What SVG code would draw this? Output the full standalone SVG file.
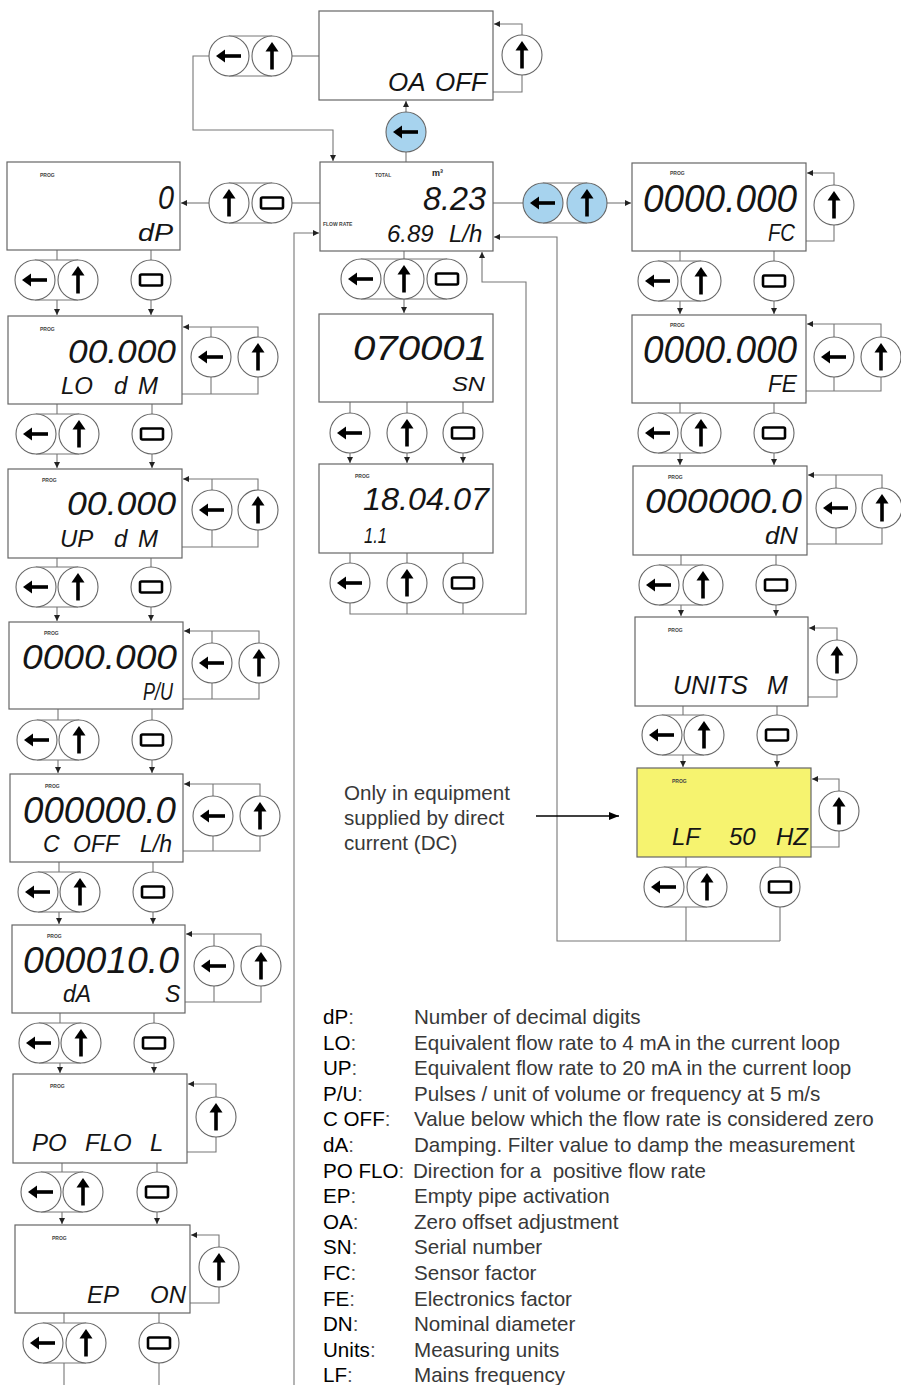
<svg xmlns="http://www.w3.org/2000/svg" xmlns:xlink="http://www.w3.org/1999/xlink" width="901" height="1385" viewBox="0 0 901 1385">
<style>
.box{fill:#fff;stroke:#666;stroke-width:1.2}
.ln{fill:none;stroke:#777;stroke-width:1.1}
.cap{fill:none;stroke:#777;stroke-width:1}
.lcd{font-family:"Liberation Sans",Arial,sans-serif;font-style:italic;fill:#151515}
.prog{font-family:"Liberation Sans",Arial,sans-serif;font-size:5px;font-weight:bold;fill:#444}
.lk{font-family:"Liberation Sans",Arial,sans-serif;font-size:20.6px;fill:#000}
.lc{fill:#555}
.ld{font-family:"Liberation Sans",Arial,sans-serif;font-size:20.6px;fill:#383838}
</style>
<defs>
<marker id="ah" viewBox="0 0 6 6" refX="6" refY="3" markerWidth="6" markerHeight="6" orient="auto" markerUnits="userSpaceOnUse"><path d="M0,0L6,3L0,6z" fill="#222"/></marker>
<marker id="ah2" viewBox="0 0 10 8" refX="10" refY="4" markerWidth="10" markerHeight="8" orient="auto" markerUnits="userSpaceOnUse"><path d="M0,0L10,4L0,8z" fill="#000"/></marker>
<g id="icL"><path d="M-13,0L-4,-6.5L-4,6.5Z" fill="#000"/><rect x="-5" y="-1.8" width="17" height="3.6" fill="#000"/></g>
<g id="icU"><path d="M0,-14L-6.5,-4.5L6.5,-4.5Z" fill="#000"/><rect x="-1.8" y="-5.5" width="3.6" height="19" fill="#000"/></g>
<g id="icR"><rect x="-11" y="-5.5" width="22" height="11" rx="1.5" fill="#fff" stroke="#000" stroke-width="2.6"/></g>
<g id="bL"><circle r="20" fill="#fff" stroke="#666" stroke-width="1.1"/><use xlink:href="#icL"/></g>
<g id="bU"><circle r="20" fill="#fff" stroke="#666" stroke-width="1.1"/><use xlink:href="#icU"/></g>
<g id="bR"><circle r="20" fill="#fff" stroke="#666" stroke-width="1.1"/><use xlink:href="#icR"/></g>
<g id="bLb"><circle r="20" fill="#a7d3ee" stroke="#666" stroke-width="1.1"/><use xlink:href="#icL"/></g>
<g id="bUb"><circle r="20" fill="#a7d3ee" stroke="#666" stroke-width="1.1"/><use xlink:href="#icU"/></g>
</defs>
<rect width="901" height="1385" fill="#fff"/>

<g id="connectors">
<path class="ln" d="M292,56H319"/>
<path class="ln" d="M209,56H193V130H333V161" marker-end="url(#ah)"/>
<path class="ln" d="M522,35V24H494" marker-end="url(#ah)"/>
<path class="ln" d="M522,75V92H493"/>
<path class="ln" d="M406,162V152"/>
<path class="ln" d="M406,112V101" marker-end="url(#ah)"/>
<path class="ln" d="M320,203H292"/>
<path class="ln" d="M209,203H181" marker-end="url(#ah)"/>
<path class="ln" d="M294,1385V233H319" marker-end="url(#ah)"/>
<path class="ln" d="M493,203H523"/>
<path class="ln" d="M607,203H631" marker-end="url(#ah)"/>
<path class="ln" d="M404,251V259"/>
<path class="ln" d="M404,299V313" marker-end="url(#ah)"/>
<path class="ln" d="M350,402V413M407,402V413M463,402V413"/>
<path class="ln" d="M350,453V463" marker-end="url(#ah)"/>
<path class="ln" d="M407,453V463" marker-end="url(#ah)"/>
<path class="ln" d="M463,453V463" marker-end="url(#ah)"/>
<path class="ln" d="M350,553V563M407,553V563M463,553V563M407,603V614M463,603V614"/>
<path class="ln" d="M350,603V614H526V282H482V252" marker-end="url(#ah)"/>
<path class="ln" d="M57,250V260M151,250V260"/>
<path class="ln" d="M57,300V315" marker-end="url(#ah)"/>
<path class="ln" d="M151,300V315" marker-end="url(#ah)"/>
<path class="ln" d="M258,337V327H183" marker-end="url(#ah)"/>
<path class="ln" d="M211,327V337M211,377V394M258,377V394H182"/>
<path class="ln" d="M57,404V414M152,404V414"/>
<path class="ln" d="M57,454V468" marker-end="url(#ah)"/>
<path class="ln" d="M152,454V468" marker-end="url(#ah)"/>
<path class="ln" d="M258,490V479H183" marker-end="url(#ah)"/>
<path class="ln" d="M212,479V490M212,530V547M258,530V547H182"/>
<path class="ln" d="M57,558V567M151,558V567"/>
<path class="ln" d="M57,607V621" marker-end="url(#ah)"/>
<path class="ln" d="M151,607V621" marker-end="url(#ah)"/>
<path class="ln" d="M259,643V631H184" marker-end="url(#ah)"/>
<path class="ln" d="M212,631V643M212,683V699M259,683V699H183"/>
<path class="ln" d="M58,709V720M152,709V720"/>
<path class="ln" d="M58,760V773" marker-end="url(#ah)"/>
<path class="ln" d="M152,760V773" marker-end="url(#ah)"/>
<path class="ln" d="M260,796V784H184" marker-end="url(#ah)"/>
<path class="ln" d="M213,784V796M213,836V851M260,836V851H183"/>
<path class="ln" d="M59,862V872M153,862V872"/>
<path class="ln" d="M59,912V924" marker-end="url(#ah)"/>
<path class="ln" d="M153,912V924" marker-end="url(#ah)"/>
<path class="ln" d="M261,946V934H186" marker-end="url(#ah)"/>
<path class="ln" d="M214,934V946M214,986V1002M261,986V1002H185"/>
<path class="ln" d="M60,1013V1023M154,1013V1023"/>
<path class="ln" d="M60,1063V1073" marker-end="url(#ah)"/>
<path class="ln" d="M154,1063V1073" marker-end="url(#ah)"/>
<path class="ln" d="M216,1097V1084H188" marker-end="url(#ah)"/>
<path class="ln" d="M216,1137V1152H187"/>
<path class="ln" d="M62,1163V1172M157,1163V1172"/>
<path class="ln" d="M62,1212V1224" marker-end="url(#ah)"/>
<path class="ln" d="M157,1212V1224" marker-end="url(#ah)"/>
<path class="ln" d="M219,1247V1235H191" marker-end="url(#ah)"/>
<path class="ln" d="M219,1287V1303H190"/>
<path class="ln" d="M64,1313V1323M159,1313V1323M64,1363V1385M159,1363V1385"/>
<path class="ln" d="M834,185V173H807" marker-end="url(#ah)"/>
<path class="ln" d="M834,225V241H806"/>
<path class="ln" d="M680,251V261M774,251V261"/>
<path class="ln" d="M680,301V314" marker-end="url(#ah)"/>
<path class="ln" d="M774,301V314" marker-end="url(#ah)"/>
<path class="ln" d="M881,337V324H807" marker-end="url(#ah)"/>
<path class="ln" d="M834,324V337M834,377V391M881,377V391H806"/>
<path class="ln" d="M680,403V413M774,403V413"/>
<path class="ln" d="M680,453V465" marker-end="url(#ah)"/>
<path class="ln" d="M774,453V465" marker-end="url(#ah)"/>
<path class="ln" d="M882,488V475H808" marker-end="url(#ah)"/>
<path class="ln" d="M836,475V488M836,528V544M882,528V544H807"/>
<path class="ln" d="M681,555V565M776,555V565"/>
<path class="ln" d="M681,605V616" marker-end="url(#ah)"/>
<path class="ln" d="M776,605V616" marker-end="url(#ah)"/>
<path class="ln" d="M837,640V628H809" marker-end="url(#ah)"/>
<path class="ln" d="M837,680V697H808"/>
<path class="ln" d="M683,706V715M777,706V715"/>
<path class="ln" d="M683,755V767" marker-end="url(#ah)"/>
<path class="ln" d="M777,755V767" marker-end="url(#ah)"/>
<path class="ln" d="M839,791V779H812" marker-end="url(#ah)"/>
<path class="ln" d="M839,831V847H811"/>
<path class="ln" d="M686,857V867M780,857V867M686,907V941M780,907V941"/>
<path class="ln" d="M780,941H557V237H494" marker-end="url(#ah)"/>
<path d="M536,816H619" fill="none" stroke="#000" stroke-width="1.6" marker-end="url(#ah2)"/>
</g>

<g id="buttons">
<path class="cap" d="M229,36H272M229,76H272"/><use xlink:href="#bL" x="229" y="56"/><use xlink:href="#bU" x="272" y="56"/>
<use xlink:href="#bU" x="522" y="55"/>
<use xlink:href="#bLb" x="406" y="132"/>
<path class="cap" d="M229,183H272M229,223H272"/><use xlink:href="#bU" x="229" y="203"/><use xlink:href="#bR" x="272" y="203"/>
<path class="cap" d="M543,183H587M543,223H587"/><use xlink:href="#bLb" x="543" y="203"/><use xlink:href="#bUb" x="587" y="203"/>
<path class="cap" d="M361,259H447M361,299H447"/><use xlink:href="#bL" x="361" y="279"/><use xlink:href="#bU" x="404" y="279"/><use xlink:href="#bR" x="447" y="279"/>
<use xlink:href="#bL" x="350" y="433"/><use xlink:href="#bU" x="407" y="433"/><use xlink:href="#bR" x="463" y="433"/>
<use xlink:href="#bL" x="350" y="583"/><use xlink:href="#bU" x="407" y="583"/><use xlink:href="#bR" x="463" y="583"/>
<path class="cap" d="M35,260H78M35,300H78"/><use xlink:href="#bL" x="35" y="280"/><use xlink:href="#bU" x="78" y="280"/><use xlink:href="#bR" x="151" y="280"/>
<use xlink:href="#bL" x="211" y="357"/><use xlink:href="#bU" x="258" y="357"/>
<path class="cap" d="M36,414H79M36,454H79"/><use xlink:href="#bL" x="36" y="434"/><use xlink:href="#bU" x="79" y="434"/><use xlink:href="#bR" x="152" y="434"/>
<use xlink:href="#bL" x="212" y="510"/><use xlink:href="#bU" x="258" y="510"/>
<path class="cap" d="M36,567H78M36,607H78"/><use xlink:href="#bL" x="36" y="587"/><use xlink:href="#bU" x="78" y="587"/><use xlink:href="#bR" x="151" y="587"/>
<use xlink:href="#bL" x="212" y="663"/><use xlink:href="#bU" x="259" y="663"/>
<path class="cap" d="M37,720H79M37,760H79"/><use xlink:href="#bL" x="37" y="740"/><use xlink:href="#bU" x="79" y="740"/><use xlink:href="#bR" x="152" y="740"/>
<use xlink:href="#bL" x="213" y="816"/><use xlink:href="#bU" x="260" y="816"/>
<path class="cap" d="M38,872H80M38,912H80"/><use xlink:href="#bL" x="38" y="892"/><use xlink:href="#bU" x="80" y="892"/><use xlink:href="#bR" x="153" y="892"/>
<use xlink:href="#bL" x="214" y="966"/><use xlink:href="#bU" x="261" y="966"/>
<path class="cap" d="M39,1023H81M39,1063H81"/><use xlink:href="#bL" x="39" y="1043"/><use xlink:href="#bU" x="81" y="1043"/><use xlink:href="#bR" x="154" y="1043"/>
<use xlink:href="#bU" x="216" y="1117"/>
<path class="cap" d="M41,1172H83M41,1212H83"/><use xlink:href="#bL" x="41" y="1192"/><use xlink:href="#bU" x="83" y="1192"/><use xlink:href="#bR" x="157" y="1192"/>
<use xlink:href="#bU" x="219" y="1267"/>
<path class="cap" d="M43,1323H86M43,1363H86"/><use xlink:href="#bL" x="43" y="1343"/><use xlink:href="#bU" x="86" y="1343"/><use xlink:href="#bR" x="159" y="1343"/>
<use xlink:href="#bU" x="834" y="205"/>
<path class="cap" d="M658,261H701M658,301H701"/><use xlink:href="#bL" x="658" y="281"/><use xlink:href="#bU" x="701" y="281"/><use xlink:href="#bR" x="774" y="281"/>
<use xlink:href="#bL" x="834" y="357"/><use xlink:href="#bU" x="881" y="357"/>
<path class="cap" d="M658,413H701M658,453H701"/><use xlink:href="#bL" x="658" y="433"/><use xlink:href="#bU" x="701" y="433"/><use xlink:href="#bR" x="774" y="433"/>
<use xlink:href="#bL" x="836" y="508"/><use xlink:href="#bU" x="882" y="508"/>
<path class="cap" d="M659,565H703M659,605H703"/><use xlink:href="#bL" x="659" y="585"/><use xlink:href="#bU" x="703" y="585"/><use xlink:href="#bR" x="776" y="585"/>
<use xlink:href="#bU" x="837" y="660"/>
<path class="cap" d="M662,715H704M662,755H704"/><use xlink:href="#bL" x="662" y="735"/><use xlink:href="#bU" x="704" y="735"/><use xlink:href="#bR" x="777" y="735"/>
<use xlink:href="#bU" x="839" y="811"/>
<path class="cap" d="M664,867H707M664,907H707"/><use xlink:href="#bL" x="664" y="887"/><use xlink:href="#bU" x="707" y="887"/><use xlink:href="#bR" x="780" y="887"/>
</g>

<g id="node-oa">
<rect class="box" x="319" y="11" width="174" height="89"/>
<text class="lcd" y="91" font-size="26"><tspan x="388">OA </tspan><tspan x="435">OFF</tspan></text>
</g>
<g id="node-main">
<rect class="box" x="320" y="162" width="173" height="89"/>
<text class="prog" x="375" y="177">TOTAL</text>
<text x="432" y="176" font-family="Liberation Sans, Arial, sans-serif" font-size="9" font-weight="bold" fill="#222">m³</text>
<text class="lcd" x="423" y="210" font-size="33" textLength="63" lengthAdjust="spacingAndGlyphs">8.23</text>
<text class="prog" x="323" y="226">FLOW RATE</text>
<text class="lcd" y="242" font-size="24"><tspan x="387">6.89 </tspan><tspan x="449">L/h</tspan></text>
</g>
<g id="node-sn">
<rect class="box" x="319" y="314" width="174" height="88"/>
<text class="lcd" x="353" y="360" font-size="35" textLength="134" lengthAdjust="spacingAndGlyphs">070001</text>
<text class="lcd" x="452" y="391" font-size="21" textLength="33" lengthAdjust="spacingAndGlyphs">SN</text>
</g>
<g id="node-version">
<rect class="box" x="319" y="464" width="174" height="89"/>
<text class="prog" x="355" y="478">PROG</text>
<text class="lcd" x="363" y="510" font-size="32" textLength="126" lengthAdjust="spacingAndGlyphs">18.04.07</text>
<text class="lcd" x="364" y="543" font-size="22" textLength="23" lengthAdjust="spacingAndGlyphs">1.1</text>
</g>

<g id="node-dp">
<rect class="box" x="7" y="162" width="173" height="88"/>
<text class="prog" x="40" y="177">PROG</text>
<text class="lcd" x="158" y="209" font-size="33" textLength="16" lengthAdjust="spacingAndGlyphs">0</text>
<text class="lcd" x="138" y="241" font-size="24" textLength="35" lengthAdjust="spacingAndGlyphs">dP</text>
</g>
<g id="node-lo">
<rect class="box" x="8" y="316" width="174" height="88"/>
<text class="prog" x="40" y="331">PROG</text>
<text class="lcd" x="68" y="363" font-size="34" textLength="108" lengthAdjust="spacingAndGlyphs">00.000</text>
<text class="lcd" y="394" font-size="24"><tspan x="61">LO </tspan><tspan x="114">d </tspan><tspan x="138">M</tspan></text>
</g>
<g id="node-up">
<rect class="box" x="8" y="469" width="174" height="89"/>
<text class="prog" x="42" y="482">PROG</text>
<text class="lcd" x="67" y="515" font-size="34" textLength="109" lengthAdjust="spacingAndGlyphs">00.000</text>
<text class="lcd" y="547" font-size="24"><tspan x="60">UP </tspan><tspan x="114">d </tspan><tspan x="138">M</tspan></text>
</g>
<g id="node-pu">
<rect class="box" x="9" y="622" width="174" height="87"/>
<text class="prog" x="44" y="635">PROG</text>
<text class="lcd" x="22" y="669" font-size="35" textLength="155" lengthAdjust="spacingAndGlyphs">0000.000</text>
<text class="lcd" x="143" y="700" font-size="24" textLength="30" lengthAdjust="spacingAndGlyphs">P/U</text>
</g>
<g id="node-coff">
<rect class="box" x="10" y="774" width="173" height="88"/>
<text class="prog" x="45" y="788">PROG</text>
<text class="lcd" x="23" y="823" font-size="37" textLength="153" lengthAdjust="spacingAndGlyphs">000000.0</text>
<text class="lcd" y="852" font-size="23"><tspan x="43">C </tspan><tspan x="73">OFF </tspan><tspan x="140">L/h</tspan></text>
</g>
<g id="node-da">
<rect class="box" x="12" y="925" width="173" height="88"/>
<text class="prog" x="47" y="938">PROG</text>
<text class="lcd" x="23" y="973" font-size="37" textLength="156" lengthAdjust="spacingAndGlyphs">000010.0</text>
<text class="lcd" y="1002" font-size="23"><tspan x="63">dA </tspan><tspan x="165">S</tspan></text>
</g>
<g id="node-poflo">
<rect class="box" x="13" y="1074" width="174" height="89"/>
<text class="prog" x="50" y="1088">PROG</text>
<text class="lcd" y="1151" font-size="24"><tspan x="32">PO </tspan><tspan x="85">FLO </tspan><tspan x="150">L</tspan></text>
</g>
<g id="node-ep">
<rect class="box" x="15" y="1225" width="175" height="88"/>
<text class="prog" x="52" y="1240">PROG</text>
<text class="lcd" y="1303" font-size="24"><tspan x="87">EP </tspan><tspan x="150">ON</tspan></text>
</g>

<g id="node-fc">
<rect class="box" x="632" y="163" width="174" height="88"/>
<text class="prog" x="670" y="175">PROG</text>
<text class="lcd" x="643" y="212" font-size="38" textLength="154" lengthAdjust="spacingAndGlyphs">0000.000</text>
<text class="lcd" x="768" y="241" font-size="24" textLength="27" lengthAdjust="spacingAndGlyphs">FC</text>
</g>
<g id="node-fe">
<rect class="box" x="632" y="315" width="174" height="88"/>
<text class="prog" x="670" y="327">PROG</text>
<text class="lcd" x="643" y="363" font-size="38" textLength="154" lengthAdjust="spacingAndGlyphs">0000.000</text>
<text class="lcd" x="768" y="392" font-size="24" textLength="29" lengthAdjust="spacingAndGlyphs">FE</text>
</g>
<g id="node-dn">
<rect class="box" x="633" y="466" width="174" height="89"/>
<text class="prog" x="668" y="479">PROG</text>
<text class="lcd" x="645" y="513" font-size="35" textLength="157" lengthAdjust="spacingAndGlyphs">000000.0</text>
<text class="lcd" x="765" y="544" font-size="24" textLength="33" lengthAdjust="spacingAndGlyphs">dN</text>
</g>
<g id="node-units">
<rect class="box" x="635" y="617" width="173" height="89"/>
<text class="prog" x="668" y="632">PROG</text>
<text class="lcd" y="694" font-size="25"><tspan x="673">UNITS </tspan><tspan x="767">M</tspan></text>
</g>
<g id="node-lf">
<rect x="637" y="768" width="174" height="89" fill="#f6f36f" stroke="#666" stroke-width="1.2"/>
<text class="prog" x="672" y="783">PROG</text>
<text class="lcd" y="845" font-size="24"><tspan x="672">LF </tspan><tspan x="729">50 </tspan><tspan x="776">HZ</tspan></text>
</g>

<g id="note">
<text class="ld" x="344" y="800">Only in equipment</text>
<text class="ld" x="344" y="825">supplied by direct</text>
<text class="ld" x="344" y="850">current (DC)</text>
</g>

<g id="legend">
<text class="lk" x="323" y="1024">dP<tspan class="lc">:</tspan></text><text class="ld" x="414" y="1024">Number of decimal digits</text>
<text class="lk" x="323" y="1049.6">LO<tspan class="lc">:</tspan></text><text class="ld" x="414" y="1049.6">Equivalent flow rate to 4 mA in the current loop</text>
<text class="lk" x="323" y="1075.2">UP<tspan class="lc">:</tspan></text><text class="ld" x="414" y="1075.2">Equivalent flow rate to 20 mA in the current loop</text>
<text class="lk" x="323" y="1100.8">P/U<tspan class="lc">:</tspan></text><text class="ld" x="414" y="1100.8">Pulses / unit of volume or frequency at 5 m/s</text>
<text class="lk" x="323" y="1126.4">C OFF<tspan class="lc">:</tspan></text><text class="ld" x="414" y="1126.4">Value below which the flow rate is considered zero</text>
<text class="lk" x="323" y="1152">dA<tspan class="lc">:</tspan></text><text class="ld" x="414" y="1152">Damping. Filter value to damp the measurement</text>
<text class="lk" x="323" y="1177.6">PO FLO<tspan class="lc">:</tspan></text><text class="ld" x="413" y="1177.6" xml:space="preserve">Direction for a  positive flow rate</text>
<text class="lk" x="323" y="1203.2">EP<tspan class="lc">:</tspan></text><text class="ld" x="414" y="1203.2">Empty pipe activation</text>
<text class="lk" x="323" y="1228.8">OA<tspan class="lc">:</tspan></text><text class="ld" x="414" y="1228.8">Zero offset adjustment</text>
<text class="lk" x="323" y="1254.4">SN<tspan class="lc">:</tspan></text><text class="ld" x="414" y="1254.4">Serial number</text>
<text class="lk" x="323" y="1280">FC<tspan class="lc">:</tspan></text><text class="ld" x="414" y="1280">Sensor factor</text>
<text class="lk" x="323" y="1305.6">FE<tspan class="lc">:</tspan></text><text class="ld" x="414" y="1305.6">Electronics factor</text>
<text class="lk" x="323" y="1331.2">DN<tspan class="lc">:</tspan></text><text class="ld" x="414" y="1331.2">Nominal diameter</text>
<text class="lk" x="323" y="1356.8">Units<tspan class="lc">:</tspan></text><text class="ld" x="414" y="1356.8">Measuring units</text>
<text class="lk" x="323" y="1382.4">LF<tspan class="lc">:</tspan></text><text class="ld" x="414" y="1382.4">Mains frequency</text>
</g>
</svg>
